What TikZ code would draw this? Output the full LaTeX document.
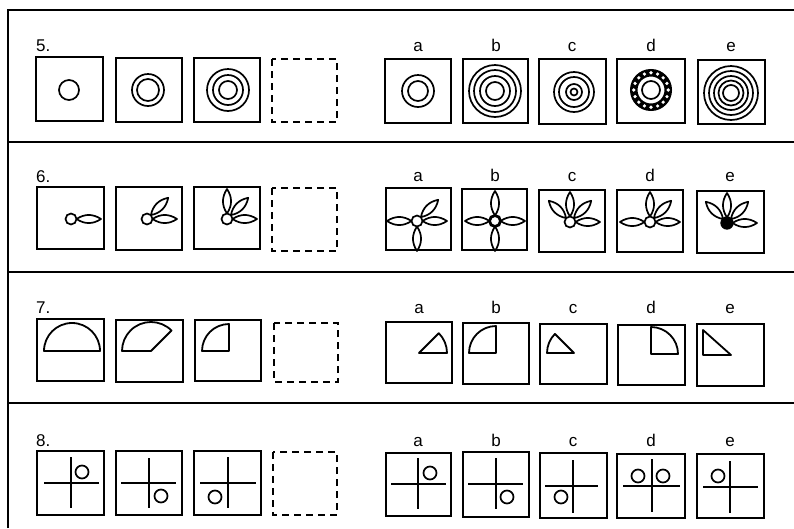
\documentclass[tikz,border=0pt]{standalone}
\usepackage{fontspec}
\setmainfont{Liberation Sans}
\usetikzlibrary{calc}
\newcommand\pA{5.5}
\newcommand\pB{13.7}
\newcommand\pC{21.8}
\newcommand\pD{30}
\newcommand\pH{5.4}
\newcommand\petal[2]{%
  \draw[petalsty] ($(#1)+(-#2:\pA)$)
    .. controls ($(#1)+(-#2:\pB)+(-#2+90:\pH)$) and ($(#1)+(-#2:\pC)+(-#2+90:\pH)$) .. ($(#1)+(-#2:\pD)$)
    .. controls ($(#1)+(-#2:\pC)+(-#2-90:\pH)$) and ($(#1)+(-#2:\pB)+(-#2-90:\pH)$) .. cycle;}
\begin{document}
\begin{tikzpicture}[x=1pt,y=-1pt,
  frame/.style={line width=2pt},
  qbox/.style={draw,line width=2pt},
  dbox/.style={draw,line width=2pt,dash pattern=on 7pt off 5pt},
  ring/.style={line width=1.7pt},
  petalsty/.style={line width=1.7pt,fill=white,line join=round},
  bud/.style={line width=1.7pt,fill=white},
  sector/.style={line width=1.8pt,line join=round},
  xline/.style={line width=1.7pt},
  num/.style={font=\fontsize{17}{20}\selectfont,anchor=base west,inner sep=0pt},
  lbl/.style={font=\fontsize{17}{20}\selectfont,anchor=base,inner sep=0pt}]
\useasboundingbox (0,0) rectangle (794,528);
% frame
\coordinate (fTL) at (8,10);
\coordinate (fTR) at (794,10);
\coordinate (fBL) at (8,528);
\draw[frame] (fBL) -- (fTL) -- (fTR);
\coordinate (s1L) at (8,142); \coordinate (s1R) at (794,142);
\coordinate (s2L) at (8,272); \coordinate (s2R) at (794,272);
\coordinate (s3L) at (8,403); \coordinate (s3R) at (794,403);
\draw[frame] (s1L) -- (s1R);
\draw[frame] (s2L) -- (s2R);
\draw[frame] (s3L) -- (s3R);

% ================= ROW 5 =================
\node[num] (n5) at (36,51) {5.};
\node[lbl] (l5a) at (418,51) {a};
\node[lbl] (l5b) at (496,51) {b};
\node[lbl] (l5c) at (572,51) {c};
\node[lbl] (l5d) at (651,51) {d};
\node[lbl] (l5e) at (731,51) {e};
\draw[qbox] (36,57) rectangle (103,121);
\draw[qbox] (116,58) rectangle (182,122);
\draw[qbox] (194,58) rectangle (260,122);
\draw[dbox] (272,59) rectangle (337,122);
\draw[qbox] (385,59) rectangle (451,123);
\draw[qbox] (463,59) rectangle (528,123);
\draw[qbox] (539,59) rectangle (606,124);
\draw[qbox] (617,59) rectangle (685,123);
\draw[qbox] (698,60) rectangle (765,124);
\coordinate (c51) at (69,90);
\coordinate (c52) at (148,90);
\coordinate (c53) at (228,90);
\coordinate (c5a) at (418,91);
\coordinate (c5b) at (495,91);
\coordinate (c5c) at (574,92);
\coordinate (c5d) at (651,90);
\coordinate (c5e) at (731,93);
\draw[ring] (c51) circle[radius=10];
\foreach \r in {16,11} \draw[ring] (c52) circle[radius=\r];
\foreach \r in {21,15,9} \draw[ring] (c53) circle[radius=\r];
\foreach \r in {16,10} \draw[ring] (c5a) circle[radius=\r];
\foreach \r in {26,21,15,9} \draw[ring] (c5b) circle[radius=\r];
\foreach \r in {20,15,8,3.5} \draw[ring] (c5c) circle[radius=\r];
\draw[line width=7.5pt] (c5d) circle[radius=17.25];
\foreach \a in {0,22.5,...,337.5} \fill[white] ($(c5d)+(\a:17.25)$) circle[radius=1.8];
\draw[ring] (c5d) circle[radius=9];
\foreach \r in {27,22,17,12.5,8} \draw[ring] (c5e) circle[radius=\r];

% ================= ROW 6 =================
\node[num] (n6) at (36,182) {6.};
\node[lbl] (l6a) at (418,181) {a};
\node[lbl] (l6b) at (495,181) {b};
\node[lbl] (l6c) at (572,181) {c};
\node[lbl] (l6d) at (650,181) {d};
\node[lbl] (l6e) at (730,181) {e};
\draw[qbox] (37,187) rectangle (104,249);
\draw[qbox] (116,187) rectangle (182,250);
\draw[qbox] (194,187) rectangle (260,249);
\draw[dbox] (272,188) rectangle (337,251);
\draw[qbox] (386,188) rectangle (451,250);
\draw[qbox] (462,189) rectangle (527,250);
\draw[qbox] (539,190) rectangle (605,252);
\draw[qbox] (617,190) rectangle (683,252);
\draw[qbox] (697,191) rectangle (764,253);
\coordinate (f1) at (71,219);
\coordinate (f2) at (147,219);
\coordinate (f3) at (227,219);
\coordinate (fa) at (417,221);
\coordinate (fb) at (495,221);
\coordinate (fc) at (570,222);
\coordinate (fd) at (650,222);
\coordinate (fe) at (727,223);
\petal{f1}{0}
\draw[bud] (f1) circle[radius=5.5];
\foreach \a in {0,45} {\petal{f2}{\a}}
\draw[bud] (f2) circle[radius=5.5];
\foreach \a in {0,45,90} {\petal{f3}{\a}}
\draw[bud] (f3) circle[radius=5.5];
\foreach \a in {0,45,180,270} {\petal{fa}{\a}}
\draw[bud] (fa) circle[radius=5.5];
\foreach \a in {0,90,180,270} {\petal{fb}{\a}}
\draw[bud,line width=2.8pt] (fb) circle[radius=5.5];
\foreach \a in {0,45,90,135} {\petal{fc}{\a}}
\draw[bud] (fc) circle[radius=5.5];
\foreach \a in {0,45,90,180} {\petal{fd}{\a}}
\draw[bud] (fd) circle[radius=5.5];
\foreach \a in {0,45,90,135} {\petal{fe}{\a}}
\draw[bud,fill=black] (fe) circle[radius=5.8];

% ================= ROW 7 =================
\node[num] (n7) at (36,313) {7.};
\node[lbl] (l7a) at (419,313) {a};
\node[lbl] (l7b) at (496,313) {b};
\node[lbl] (l7c) at (573,313) {c};
\node[lbl] (l7d) at (651,313) {d};
\node[lbl] (l7e) at (730,313) {e};
\draw[qbox] (37,319) rectangle (104,381);
\draw[qbox] (116,320) rectangle (183,382);
\draw[qbox] (195,320) rectangle (261,381);
\draw[dbox] (274,323) rectangle (338,382);
\draw[qbox] (386,322) rectangle (452,383);
\draw[qbox] (463,323) rectangle (529,384);
\draw[qbox] (540,324) rectangle (607,384);
\draw[qbox] (618,325) rectangle (685,385);
\draw[qbox] (697,324) rectangle (764,386);
\coordinate (k1) at (72,351);
\coordinate (k2) at (151,351);
\coordinate (k3) at (229,351);
\coordinate (ka) at (419,353);
\coordinate (kb) at (496,353);
\coordinate (kc) at (574,353);
\coordinate (kd) at (651,354);
\draw[sector] (k1) -- ++(0:28) arc[start angle=0,end angle=-180,radius=28] -- cycle;
\draw[sector] (k2) -- ++(-45:29) arc[start angle=-45,end angle=-180,radius=29] -- cycle;
\draw[sector] (k3) -- ++(-90:27) arc[start angle=-90,end angle=-180,radius=27] -- cycle;
\draw[sector] (ka) -- ++(0:28) arc[start angle=0,end angle=-45,radius=28] -- cycle;
\draw[sector] (kb) -- ++(-90:27) arc[start angle=-90,end angle=-180,radius=27] -- cycle;
\draw[sector] (kc) -- ++(-135:27) arc[start angle=-135,end angle=-180,radius=27] -- cycle;
\draw[sector] (kd) -- ++(0:27) arc[start angle=0,end angle=-90,radius=27] -- cycle;
\coordinate (t1) at (703,330);
\coordinate (t2) at (703,355);
\coordinate (t3) at (731,355);
\draw[sector] (t1) -- (t2) -- (t3) -- cycle;

% ================= ROW 8 =================
\node[num] (n8) at (36,446) {8.};
\node[lbl] (l8a) at (418,446) {a};
\node[lbl] (l8b) at (496,446) {b};
\node[lbl] (l8c) at (573,446) {c};
\node[lbl] (l8d) at (651,446) {d};
\node[lbl] (l8e) at (730,446) {e};
\draw[qbox] (37,451) rectangle (104,515);
\draw[qbox] (116,451) rectangle (182,515);
\draw[qbox] (194,451) rectangle (261,515);
\draw[dbox] (273,452) rectangle (337,515);
\draw[qbox] (386,453) rectangle (451,516);
\draw[qbox] (463,452) rectangle (529,517);
\draw[qbox] (540,453) rectangle (607,518);
\draw[qbox] (617,454) rectangle (685,518);
\draw[qbox] (697,454) rectangle (764,518);
% crosses
\draw[xline] (71,457) -- (71,508);   \draw[xline] (44,483) -- (99,483);
\draw[xline] (149,458) -- (149,508); \draw[xline] (121,483) -- (176,483);
\draw[xline] (228,457) -- (228,508); \draw[xline] (200,483) -- (256,483);
\draw[xline] (418,458) -- (418,509); \draw[xline] (391,484) -- (446,484);
\draw[xline] (496,458) -- (496,509); \draw[xline] (468,484) -- (523,484);
\draw[xline] (573,460) -- (573,513); \draw[xline] (545,486) -- (598,486);
\draw[xline] (652,459) -- (652,512); \draw[xline] (623,486) -- (680,486);
\draw[xline] (730,461) -- (730,513); \draw[xline] (703,487) -- (758,487);
% dots
\draw[ring] (82,472) circle[radius=6.5];
\draw[ring] (161,496) circle[radius=6.5];
\draw[ring] (215,497) circle[radius=6.5];
\draw[ring] (430,473) circle[radius=6.5];
\draw[ring] (507,497) circle[radius=6.5];
\draw[ring] (561,497) circle[radius=6.5];
\draw[ring] (638,476) circle[radius=6.5];
\draw[ring] (663,476) circle[radius=6.5];
\draw[ring] (718,476) circle[radius=6.5];
\end{tikzpicture}
\end{document}
